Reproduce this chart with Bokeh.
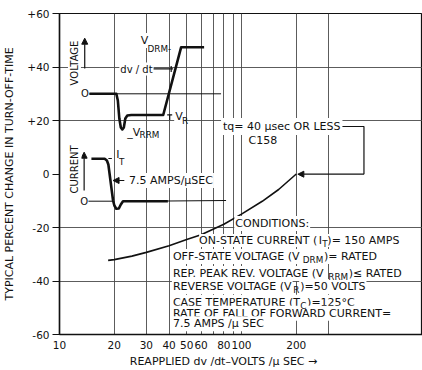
import math
from bokeh.plotting import figure
from bokeh.models import (Range1d, LinearScale, FixedTicker, NumeralTickFormatter,
                          Label, Arrow, NormalHead)
from bokeh.embed import file_html
from bokeh.resources import INLINE

# ---------------- data ----------------
dvdt_ticks = [10, 20, 30, 40, 50, 60, 80, 100, 200]
dvdt_grid = [20, 30, 40, 50, 60, 70, 80, 90, 100, 200, 300]
pct_ticks = [-60, -40, -20, 0, 20, 40, 60]
pct_tick_labels = ["-60", "-40", "-20", "0", "+20", "+40", "+60"]
pct_grid = [-40, -20, 20, 40]

# curve: reapplied dv/dt (V/us) vs typical % change in turn-off time
dvdt = [18.5, 20, 25, 30, 40, 50, 60, 80, 100, 130, 160, 200]
pct_change = [-32.3, -32.0, -30.7, -29.3, -26.8, -24.5, -22.7, -18.8, -15.0, -10.2, -5.8, 0.0]

# inset schematic waveforms (schematic units)
volt_t = [30, 57, 58.5, 60, 61.5, 63, 64.5, 66, 68, 72, 104, 122, 145]
volt_v = [240.7, 240.7, 234, 216, 207, 205, 207, 216, 219, 219.5, 219.5, 287.3, 287.3]
volt_base_t = [30, 162]
volt_base_v = [240.7, 240.7]
cur_t = [32, 45.3, 47.5, 49, 53.7, 55, 57, 59.5, 61.5, 63.7, 108.7]
cur_i = [175.7, 175.7, 174, 170, 134, 129, 125.7, 126, 130, 133.3, 133.3]
cur_tail_t = [108.7, 167]
cur_tail_i = [133.5, 134]
cur_base_t = [29, 54]
cur_base_i = [133.3, 133.3]
tq_bracket_t = [272, 305.3, 305.3]
tq_bracket_v = [208, 208, 160.3]

# arrows: (x0, y0, x1, y1) schematic units
arrows = [(25.3, 266, 25.3, 296.3), (24.7, 144, 24.7, 182.3),
          (65, 154, 53.7, 154), (305.3, 160.3, 239, 160.3)]
# small marker segments
marks = [(92, 265.7, 114, 265.7), (112, 262.5, 112, 268.5),
         (108, 219.7, 113, 219.7), (110.5, 219.7, 110.5, 214.5),
         (49, 176, 52.5, 176)]

conditions = [
    (140.0, 94.0, [("ON-STATE CURRENT (", 0, 1), ("I", 0, 1), ("T", -3.5, 0.8), (")= 150 AMPS", 0, 1)], 0),
    (112.7, 78.0, [("OFF-STATE VOLTAGE (V", 0, 1), ("DRM", -3.5, 0.8), (")= RATED", 0, 1)], 1),
    (112.7, 61.0, [("REP. PEAK REV. VOLTAGE (V", 0, 1), ("RRM", -3.5, 0.8), (")\u2264 RATED", 0, 1)], 1),
    (112.7, 48.0, [("REVERSE VOLTAGE (V", 0, 1), ("R", -3.5, 0.8), (")=50 VOLTS", 0, 1)], 1),
    (112.7, 32.3, [("CASE TEMPERATURE (T", 0, 1), ("C", -3.5, 0.8), (")=125\u00b0C", 0, 1)], 1),
    (112.7, 21.3, [("RATE OF FALL OF FORWARD CURRENT=", 0, 1)], 1),
    (112.7, 10.7, [("7.5 AMPS /\u03bc SEC", 0, 1)], 1),
]

FONT = "DejaVu Sans"
INK = "#111111"
GRID = "#4a4a4a"

W = {' ': .318, '(': .390, ')': .390, '-': .361, '.': .318, '/': .337, ':': .337,
     '=': .838, '\u2264': .838, '\u00b0': .500, '\u03bc': .636, '_': .500,
     'A': .684, 'B': .686, 'C': .698, 'D': .770, 'E': .632, 'F': .575, 'G': .775,
     'H': .752, 'I': .295, 'J': .295, 'K': .656, 'L': .557, 'M': .863, 'N': .748,
     'O': .787, 'P': .603, 'Q': .787, 'R': .695, 'S': .635, 'T': .611, 'U': .732,
     'V': .684, 'W': .989, 'X': .685, 'Y': .611, 'Z': .685,
     'a': .613, 'c': .550, 'd': .635, 'e': .615, 'q': .635, 's': .521, 't': .392, 'v': .592}
for d in "0123456789":
    W[d] = .636


def text_width(s, size):
    return sum(W.get(c, 0.62) for c in s) * size


p = figure(width=422, height=370, x_axis_type="log", x_range=(10, 987.5), y_range=(-60, 60),
           output_backend="svg", toolbar_location=None,
           min_border_left=58, min_border_right=0, min_border_top=13, min_border_bottom=36)
p.extra_x_ranges = {"sx": Range1d(0, 364)}
p.extra_y_ranges = {"sy": Range1d(0, 321)}
p.extra_x_scales = {"sx": LinearScale()}
p.extra_y_scales = {"sy": LinearScale()}

p.background_fill_color = "white"
p.border_fill_color = "white"
p.outline_line_color = INK
p.outline_line_width = 1.2

# axes
for ax in (p.xaxis[0], p.yaxis[0]):
    ax.axis_line_color = INK
    ax.axis_line_width = 1.5
    ax.major_tick_line_color = INK
    ax.major_tick_line_width = 1.2
    ax.minor_tick_line_color = None
    ax.major_label_text_font = FONT
    ax.major_label_text_font_size = "10.5px"
    ax.major_label_text_color = INK
    ax.axis_label_text_font = FONT
    ax.axis_label_text_font_size = "11px"
    ax.axis_label_text_font_style = "normal"
    ax.axis_label_text_color = INK
p.xaxis.ticker = FixedTicker(ticks=dvdt_ticks)
p.xaxis.formatter = NumeralTickFormatter(format="0")
p.xaxis.major_tick_out = 0
p.xaxis.major_tick_in = 0
p.xaxis.major_label_standoff = 6
p.xaxis.axis_label = "REAPPLIED dv /dt\u2013VOLTS /\u03bc SEC \u2192" + "\u00a0" * 10
p.xaxis.axis_label_standoff = 3
p.yaxis.ticker = FixedTicker(ticks=pct_ticks)
p.yaxis.major_label_overrides = {t: s for t, s in zip(pct_ticks, pct_tick_labels)}
p.yaxis.major_tick_out = 7
p.yaxis.major_tick_in = 0
p.yaxis.major_label_standoff = 3
p.yaxis.axis_label = "TYPICAL PERCENT CHANGE IN TURN-OFF-TIME"
p.yaxis.axis_label_standoff = 8

p.xgrid.ticker = FixedTicker(ticks=dvdt_grid)
p.ygrid.ticker = FixedTicker(ticks=pct_grid)
for g in (p.xgrid[0], p.ygrid[0]):
    g.grid_line_color = GRID
    g.grid_line_width = 1
    g.grid_line_alpha = 0.9

# main curve
p.line(dvdt, pct_change, line_color=INK, line_width=1.6)

# inset schematics
S = dict(x_range_name="sx", y_range_name="sy")
p.line(volt_base_t, volt_base_v, line_color=INK, line_width=1, **S)
p.line(volt_t, volt_v, line_color=INK, line_width=2.6, line_join="round", **S)
p.line(cur_base_t, cur_base_i, line_color=INK, line_width=1, **S)
p.line(cur_tail_t, cur_tail_i, line_color=INK, line_width=1.2, **S)
p.line(cur_t, cur_i, line_color=INK, line_width=2.6, line_join="round", **S)
p.line(tq_bracket_t, tq_bracket_v, line_color=INK, line_width=1.2, **S)
p.segment(x0=[m[0] for m in marks], y0=[m[1] for m in marks],
          x1=[m[2] for m in marks], y1=[m[3] for m in marks],
          line_color=INK, line_width=1.2, **S)
for (x0, y0, x1, y1) in arrows:
    p.add_layout(Arrow(x_start=x0, y_start=y0, x_end=x1, y_end=y1,
                       end=NormalHead(size=6, fill_color=INK, line_color=INK, line_width=1),
                       line_color=INK, line_width=1.2, **S))

deferred = []


def make_label(x, y, text, size=10.5, align="left", angle=0.0, bg=True, pad=1):
    kw = dict(background_fill_color="white", padding=pad) if bg else {}
    return Label(x=x, y=y, text=text, text_font=FONT, text_font_size=f"{size:.1f}px",
                 text_color=INK, text_align=align, text_baseline="middle",
                 angle=angle, **kw, **S)


def lab(*args, **kwargs):
    p.add_layout(make_label(*args, **kwargs))


def rich(x, y, parts, size=11.0, pad=1):
    cx = x
    for txt, dy, f in parts:
        fs = size * f
        if f < 1:
            # subscripts are drawn last, on top of neighbouring label backgrounds
            deferred.append(make_label(cx + 0.3, y + dy, txt, fs, bg=False))
        else:
            lab(cx, y + dy, txt, fs, pad=pad)
        cx += text_width(txt, fs)


# inset labels
lab(15, 271.5, "VOLTAGE", 10, align="center", angle=math.pi / 2)
lab(15.5, 165, "CURRENT", 10, align="center", angle=math.pi / 2)
lab(25.5, 240.7, "O", 10, align="center", bg=False)
lab(24.7, 133.3, "O", 10, align="center", bg=False)
rich(80.5, 294, [("V", 0, 1), ("DRM-", -8, 0.8)])
lab(60, 265.5, "dv / dt", 10)
rich(67, 202.3, [("_V", 0, 1), ("RRM", -3, 0.8)])
rich(115, 218, [("V", 0, 1), ("R", -4.5, 0.8)])
rich(56, 180, [("I", 0, 1), ("T", -7.5, 0.8)])
lab(68.7, 154, "7.5 AMPS/\u03bcSEC", 11)
lab(162, 208, "tq= 40 \u03bcsec OR LESS", 11, pad=2)
lab(204, 194, "C158", 11, align="center")

# conditions block
lab(175.3, 111, "CONDITIONS:", 11)
for (cx, cy, parts, pad) in conditions:
    rich(cx, cy, parts, 11.0, pad=pad)

for lbl in deferred:
    p.add_layout(lbl)

open("out.html", "w").write(file_html(p, INLINE))
